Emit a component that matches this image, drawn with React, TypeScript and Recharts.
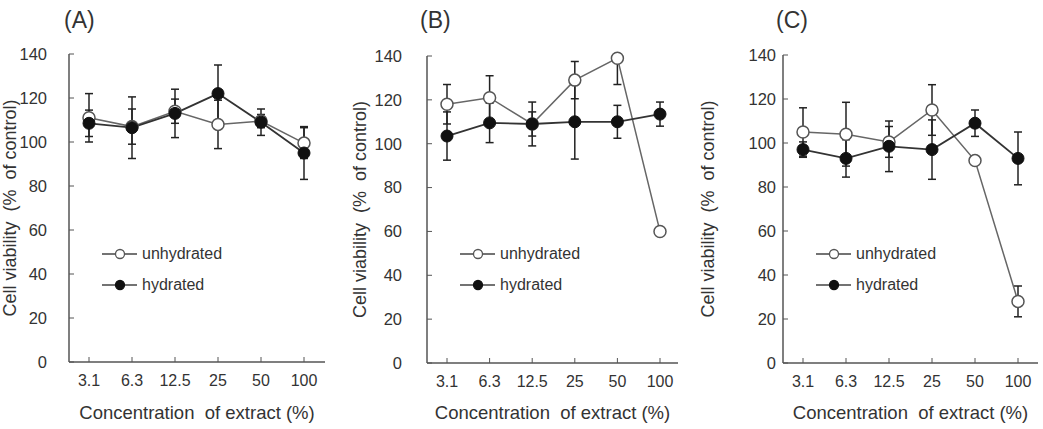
import React from "react";
import {
  LineChart,
  Line,
  XAxis,
  YAxis,
  ErrorBar,
  Label,
  Legend,
} from "recharts";

const FONT = '"Liberation Sans", Arial, sans-serif';
const TEXT = "#333";
const FRAME = "#555";

// extract concentrations (%)
const concentrations = ["3.1", "6.3", "12.5", "25", "50", "100"];
const yTicks = [0, 20, 40, 60, 80, 100, 120, 140];

// (A)
const unhydratedA = [111, 107, 114, 108, 109.5, 99.5];
const unhydratedErrA = [11, 8, 5.5, 11, 3, 7];
const hydratedA = [108.5, 106.5, 113, 122, 109, 95];
const hydratedErrA = [6, 14, 11, 13, 6, 12];

// (B)
const unhydratedB = [118, 121, 109, 129, 139, 60];
const unhydratedErrB: (number | number[])[] = [9, 10, 5.5, 8.5, [12, 0], 0];
const hydratedB = [103.5, 109.5, 109, 110, 110, 113.5];
const hydratedErrB = [11, 9, 10, 17, 7.5, 5.5];

// (C)
const unhydratedC = [105, 104, 100.5, 115, 92, 28];
const unhydratedErrC = [11, 14.5, 7, 11.5, 0, 7];
const hydratedC = [97, 93, 98.5, 97, 109, 93];
const hydratedErrC = [3.5, 8.5, 11.5, 13.5, 6, 12];

const buildRows = (u: number[], uErr: any[], h: number[], hErr: number[]) =>
  concentrations.map((c, i) => ({
    conc: c,
    unhydrated: u[i],
    unhydratedErr: uErr[i],
    hydrated: h[i],
    hydratedErr: hErr[i],
  }));

const legendItems = [
  { name: "unhydrated", fill: "#fff" },
  { name: "hydrated", fill: "#111" },
];

const LegendBox = () => (
  <div style={{ fontFamily: FONT, fontSize: 16, color: TEXT }}>
    {legendItems.map((item) => (
      <div
        key={item.name}
        style={{ display: "flex", alignItems: "center", height: 31 }}
      >
        <svg width={40} height={14} style={{ display: "block" }}>
          <line x1={0} y1={7} x2={35} y2={7} stroke="#444" strokeWidth={1.5} />
          <circle
            cx={18}
            cy={7}
            r={4.5}
            fill={item.fill}
            stroke={item.fill === "#fff" ? "#555" : "#111"}
            strokeWidth={1.3}
          />
        </svg>
        <span>{item.name}</span>
      </div>
    ))}
  </div>
);

interface PanelProps {
  letter: string;
  rows: any[];
  left: number;
  width: number;
  yAxisWidth: number;
  marginRight: number;
  marginTop: number;
  xAxisHeight: number;
  yTickMargin: number;
  yLabelOffset: number;
  padRight: number;
  letterX: number;
}

const Panel: React.FC<PanelProps> = ({
  letter,
  rows,
  left,
  width,
  yAxisWidth,
  marginRight,
  marginTop,
  xAxisHeight,
  yTickMargin,
  yLabelOffset,
  padRight,
  letterX,
}) => (
  <div
    style={{
      position: "absolute",
      left,
      top: 0,
      width,
      height: 429,
      fontFamily: FONT,
    }}
  >
    <div
      style={{
        position: "absolute",
        left: letterX,
        top: 9,
        fontSize: 23,
        lineHeight: "23px",
        color: TEXT,
      }}
    >
      {letter}
    </div>
    <LineChart
      width={width}
      height={429}
      data={rows}
      margin={{ top: marginTop, right: marginRight, left: 0, bottom: 0 }}
      style={{ fontFamily: FONT }}
    >
      <XAxis
        dataKey="conc"
        type="category"
        height={xAxisHeight}
        interval={0}
        padding={{ left: 20, right: padRight }}
        tickSize={-5}
        tickMargin={18}
        tick={{ fill: TEXT, fontSize: 16 }}
        tickLine={{ stroke: FRAME }}
        axisLine={{ stroke: FRAME, strokeWidth: 1.5 }}
      >
        <Label
          value={"Concentration\u00a0 of extract (%)"}
          position="insideBottom"
          offset={10}
          style={{ fill: TEXT, fontSize: 18.5 }}
        />
      </XAxis>
      <XAxis
        xAxisId="top"
        orientation="top"
        dataKey="conc"
        height={0}
        tick={false}
        tickLine={false}
        axisLine={{ stroke: FRAME, strokeWidth: 1.5 }}
      />
      <YAxis
        width={yAxisWidth}
        domain={[0, 140]}
        ticks={yTicks}
        interval={0}
        tickSize={-5}
        tickMargin={yTickMargin}
        tick={{ fill: TEXT, fontSize: 16.5 }}
        tickLine={{ stroke: FRAME }}
        axisLine={{ stroke: FRAME, strokeWidth: 1.5 }}
      >
        <Label
          value={"Cell viability\u00a0 (%\u00a0 of control)"}
          angle={-90}
          position="insideLeft"
          offset={yLabelOffset}
          style={{ fill: TEXT, fontSize: 18, textAnchor: "middle" }}
        />
      </YAxis>
      <YAxis
        yAxisId="right"
        orientation="right"
        width={0}
        domain={[0, 140]}
        tick={false}
        tickLine={false}
        axisLine={{ stroke: FRAME, strokeWidth: 1.5 }}
      />
      {/* error bars first so that the markers sit on top */}
      <Line
        dataKey="unhydrated"
        stroke="none"
        dot={false}
        activeDot={false}
        legendType="none"
        isAnimationActive={false}
      >
        <ErrorBar
          dataKey="unhydratedErr"
          width={4}
          stroke="#222"
          strokeWidth={1.5}
          direction="y"
          isAnimationActive={false}
        />
      </Line>
      <Line
        dataKey="hydrated"
        stroke="none"
        dot={false}
        activeDot={false}
        legendType="none"
        isAnimationActive={false}
      >
        <ErrorBar
          dataKey="hydratedErr"
          width={4}
          stroke="#222"
          strokeWidth={1.5}
          direction="y"
          isAnimationActive={false}
        />
      </Line>
      <Line
        type="linear"
        dataKey="unhydrated"
        stroke="#666"
        strokeWidth={1.5}
        dot={{ r: 6, fill: "#fff", stroke: "#555", strokeWidth: 1.5 }}
        activeDot={false}
        isAnimationActive={false}
      />
      <Line
        type="linear"
        dataKey="hydrated"
        stroke="#333"
        strokeWidth={1.8}
        dot={{ r: 6, fill: "#111", stroke: "#111", strokeWidth: 1 }}
        activeDot={false}
        isAnimationActive={false}
      />
      <Legend
        content={<LegendBox />}
        layout="horizontal"
        verticalAlign="middle"
        align="center"
        wrapperStyle={{
          left: yAxisWidth + 33,
          top: 238,
          width: 160,
          height: 62,
        }}
      />
    </LineChart>
  </div>
);

export default function App() {
  return (
    <div
      style={{
        position: "absolute",
        left: 0,
        top: 0,
        width: 1043,
        height: 429,
        background: "#fff",
        overflow: "hidden",
      }}
    >
      <Panel
        letter="(A)"
        rows={buildRows(unhydratedA, unhydratedErrA, hydratedA, hydratedErrA)}
        left={0}
        width={340}
        yAxisWidth={69}
        marginRight={15}
        marginTop={54}
        xAxisHeight={67}
        yTickMargin={27}
        yLabelOffset={10}
        padRight={21}
        letterX={64}
      />
      <Panel
        letter="(B)"
        rows={buildRows(unhydratedB, unhydratedErrB, hydratedB, hydratedErrB)}
        left={350}
        width={340}
        yAxisWidth={77}
        marginRight={12}
        marginTop={56}
        xAxisHeight={66}
        yTickMargin={30}
        yLabelOffset={10}
        padRight={18}
        letterX={70}
      />
      <Panel
        letter="(C)"
        rows={buildRows(unhydratedC, unhydratedErrC, hydratedC, hydratedErrC)}
        left={690}
        width={353}
        yAxisWidth={93}
        marginRight={5}
        marginTop={55}
        xAxisHeight={66}
        yTickMargin={12}
        yLabelOffset={18}
        padRight={20}
        letterX={86}
      />
    </div>
  );
}
